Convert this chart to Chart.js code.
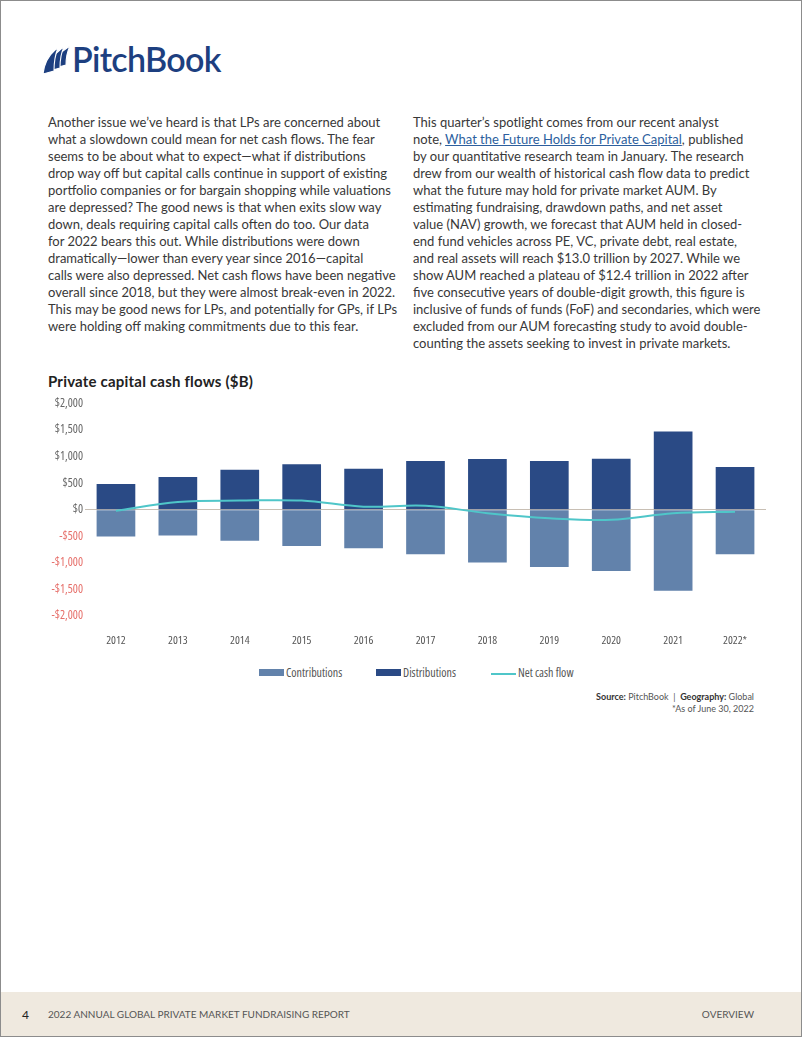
<!DOCTYPE html>
<html>
<head>
<meta charset="utf-8">
<script src="https://cdn.jsdelivr.net/npm/chart.js@4.4.0/dist/chart.umd.min.js"></script>
<style>
html, body { margin: 0; padding: 0; }
body { width: 802px; height: 1037px; position: relative; overflow: hidden; background: #fff; font-family: Lato, "Open Sans", sans-serif; }
.frame { position: absolute; left: 0; top: 0; width: 800px; height: 1035px; border: 1px solid #8c8c8c; pointer-events: none; z-index: 5; }
.logo { position: absolute; left: 42px; top: 37px; height: 44px; }
.logo svg { position: absolute; left: 1px; top: 9px; }
.logo span { position: absolute; left: 30px; top: 0; font-size: 34px; font-weight: 600; color: #1d3f80; letter-spacing: -0.7px; line-height: 44px; white-space: nowrap; }
.col { position: absolute; top: 114px; font-size: 13px; line-height: 17px; color: #383838; white-space: nowrap; }
.col a { color: #2d5f9e; text-decoration: underline; }
#left { left: 48px; }
#right { left: 413px; }
.title { position: absolute; left: 48px; top: 371px; font-size: 15px; font-weight: 700; color: #222; line-height: 20px; letter-spacing: 0.2px; white-space: nowrap; }
.chart-box { position: absolute; left: 40px; top: 390px; width: 740px; height: 258px; }
.legend { position: absolute; top: 665px; left: 0; width: 802px; height: 16px; font-family: "Open Sans", sans-serif; font-stretch: condensed; font-size: 12px; color: #555; }
.legend .item { position: absolute; top: 0; line-height: 16px; white-space: nowrap; }
.legend .sw { display: inline-block; width: 25px; height: 7px; vertical-align: middle; margin-right: 2px; margin-top: -2px; }
.source { position: absolute; right: 48px; top: 691px; text-align: right; font-size: 9px; line-height: 12px; color: #555; }
.source b { color: #333; }
.footer { position: absolute; left: 0; top: 992px; width: 802px; height: 45px; background: #efe9df; font-size: 10px; color: #555; }
.footer .pg { position: absolute; left: 22px; top: 15px; font-size: 12px; color: #222; }
.footer .ttl { position: absolute; left: 48px; top: 16px; }
.footer .sec { position: absolute; right: 48px; top: 16px; }
</style>
</head>
<body>
<div class="frame"></div>

<div class="logo">
  <svg width="27" height="28" viewBox="0 0 27 28">
    <path d="M12 22 C13 13 17 6 24 2 L27 0 C24 6 23 12 23 19 Z" fill="#1d3f80" stroke="#fff" stroke-width="1.1"/>
    <path d="M6 25 C7 16 11 8 18 3 L21 1 C18 7 17 14 17 22 Z" fill="#1d3f80" stroke="#fff" stroke-width="1.1"/>
    <path d="M0 28 C1 19 5 10 12 4 L15 2 C12 9 11 16 11 25 Z" fill="#1d3f80" stroke="#fff" stroke-width="1.1"/>
  </svg>
  <span>PitchBook</span>
</div>

<div class="col" id="left">
Another issue we’ve heard is that LPs are concerned about<br>
what a slowdown could mean for net cash flows. The fear<br>
seems to be about what to expect—what if distributions<br>
drop way off but capital calls continue in support of existing<br>
portfolio companies or for bargain shopping while valuations<br>
are depressed? The good news is that when exits slow way<br>
down, deals requiring capital calls often do too. Our data<br>
for 2022 bears this out. While distributions were down<br>
dramatically—lower than every year since 2016—capital<br>
calls were also depressed. Net cash flows have been negative<br>
overall since 2018, but they were almost break-even in 2022.<br>
This may be good news for LPs, and potentially for GPs, if LPs<br>
were holding off making commitments due to this fear.
</div>

<div class="col" id="right">
This quarter’s spotlight comes from our recent analyst<br>
note, <a>What the Future Holds for Private Capital</a>, published<br>
by our quantitative research team in January. The research<br>
drew from our wealth of historical cash flow data to predict<br>
what the future may hold for private market AUM. By<br>
estimating fundraising, drawdown paths, and net asset<br>
value (NAV) growth, we forecast that AUM held in closed-<br>
end fund vehicles across PE, VC, private debt, real estate,<br>
and real assets will reach $13.0 trillion by 2027. While we<br>
show AUM reached a plateau of $12.4 trillion in 2022 after<br>
five consecutive years of double-digit growth, this figure is<br>
inclusive of funds of funds (FoF) and secondaries, which were<br>
excluded from our AUM forecasting study to avoid double-<br>
counting the assets seeking to invest in private markets.
</div>

<div class="title">Private capital cash flows ($B)</div>

<div class="chart-box"><canvas id="cash-chart" width="740" height="258"></canvas></div>

<div class="legend" id="legend"></div>

<div class="source"><b>Source:</b> PitchBook &nbsp;|&nbsp; <b>Geography:</b> Global<br>*As of June 30, 2022</div>

<div class="footer">
  <span class="pg">4</span>
  <span class="ttl">2022 ANNUAL GLOBAL PRIVATE MARKET FUNDRAISING REPORT</span>
  <span class="sec">OVERVIEW</span>
</div>

<script>
// Chart data ($B)
const years = ['2012', '2013', '2014', '2015', '2016', '2017', '2018', '2019', '2020', '2021', '2022*'];
const contributions = [-504, -485, -585, -680, -725, -838, -995, -1076, -1151, -1523, -838];
const distributions = [485, 617, 755, 855, 774, 919, 955, 919, 962, 1472, 804];
const netCashFlow = [-20, 145, 172, 172, 58, 75, -65, -160, -190, -65, -40];

const seriesNames = ['Contributions', 'Distributions', 'Net cash flow'];
const seriesColors = ['#6282ab', '#2a4a85', '#4fc6c9'];

// narrow axis text: Open Sans in its condensed width
const tickFont = size => ({ family: "'Open Sans', sans-serif", weight: '400 condensed', size: size });

// format axis values like $1,500 / -$500
const money = v => (v < 0 ? '-$' : '$') + Math.abs(v).toLocaleString('en-US');

const ctx = document.getElementById('cash-chart').getContext('2d');
const cashChart = new Chart(ctx, {
    type: 'bar',
    data: {
        labels: years,
        datasets: [
            {
                type: 'line',
                label: seriesNames[2],
                data: netCashFlow,
                borderColor: seriesColors[2],
                borderWidth: 2,
                pointRadius: 0,
                tension: 0.35,
                fill: false,
                order: 0
            },
            {
                label: seriesNames[0],
                data: contributions,
                backgroundColor: seriesColors[0],
                order: 1
            },
            {
                label: seriesNames[1],
                data: distributions,
                backgroundColor: seriesColors[1],
                order: 1
            }
        ]
    },
    options: {
        responsive: false,
        animation: false,
        layout: { padding: { top: 13.5, right: 14, left: 0, bottom: 0 } },
        datasets: { bar: { barPercentage: 0.625, categoryPercentage: 1 } },
        plugins: { legend: { display: false }, tooltip: { enabled: false } },
        scales: {
            x: {
                stacked: true,
                grid: { display: false, drawTicks: false },
                border: { display: false },
                ticks: { padding: 18, color: '#555', maxRotation: 0, font: tickFont(11.5) },
                afterFit: scale => { scale.height = 32; }
            },
            y: {
                min: -2000,
                max: 2000,
                border: { display: false },
                grid: {
                    drawTicks: false,
                    color: c => (c.tick && c.tick.value === 0) ? '#c8bfb4' : 'rgba(0,0,0,0)'
                },
                ticks: {
                    stepSize: 500,
                    padding: 2,
                    color: c => c.tick.value < 0 ? '#e66f6a' : '#666',
                    font: tickFont(12),
                    callback: v => money(v)
                },
                afterFit: scale => { scale.width = 45; }
            }
        }
    }
});

// HTML legend built from the series
const legendEl = document.getElementById('legend');
const legendX = [259, 376, 491];
seriesNames.forEach((name, i) => {
    const item = document.createElement('div');
    item.className = 'item';
    item.style.left = legendX[i] + 'px';
    const sw = document.createElement('span');
    sw.className = 'sw';
    sw.style.background = seriesColors[i];
    if (i === 2) { sw.style.height = '2px'; sw.style.marginTop = '0'; }
    item.appendChild(sw);
    item.appendChild(document.createTextNode(name));
    legendEl.appendChild(item);
});
</script>
</body>
</html>
